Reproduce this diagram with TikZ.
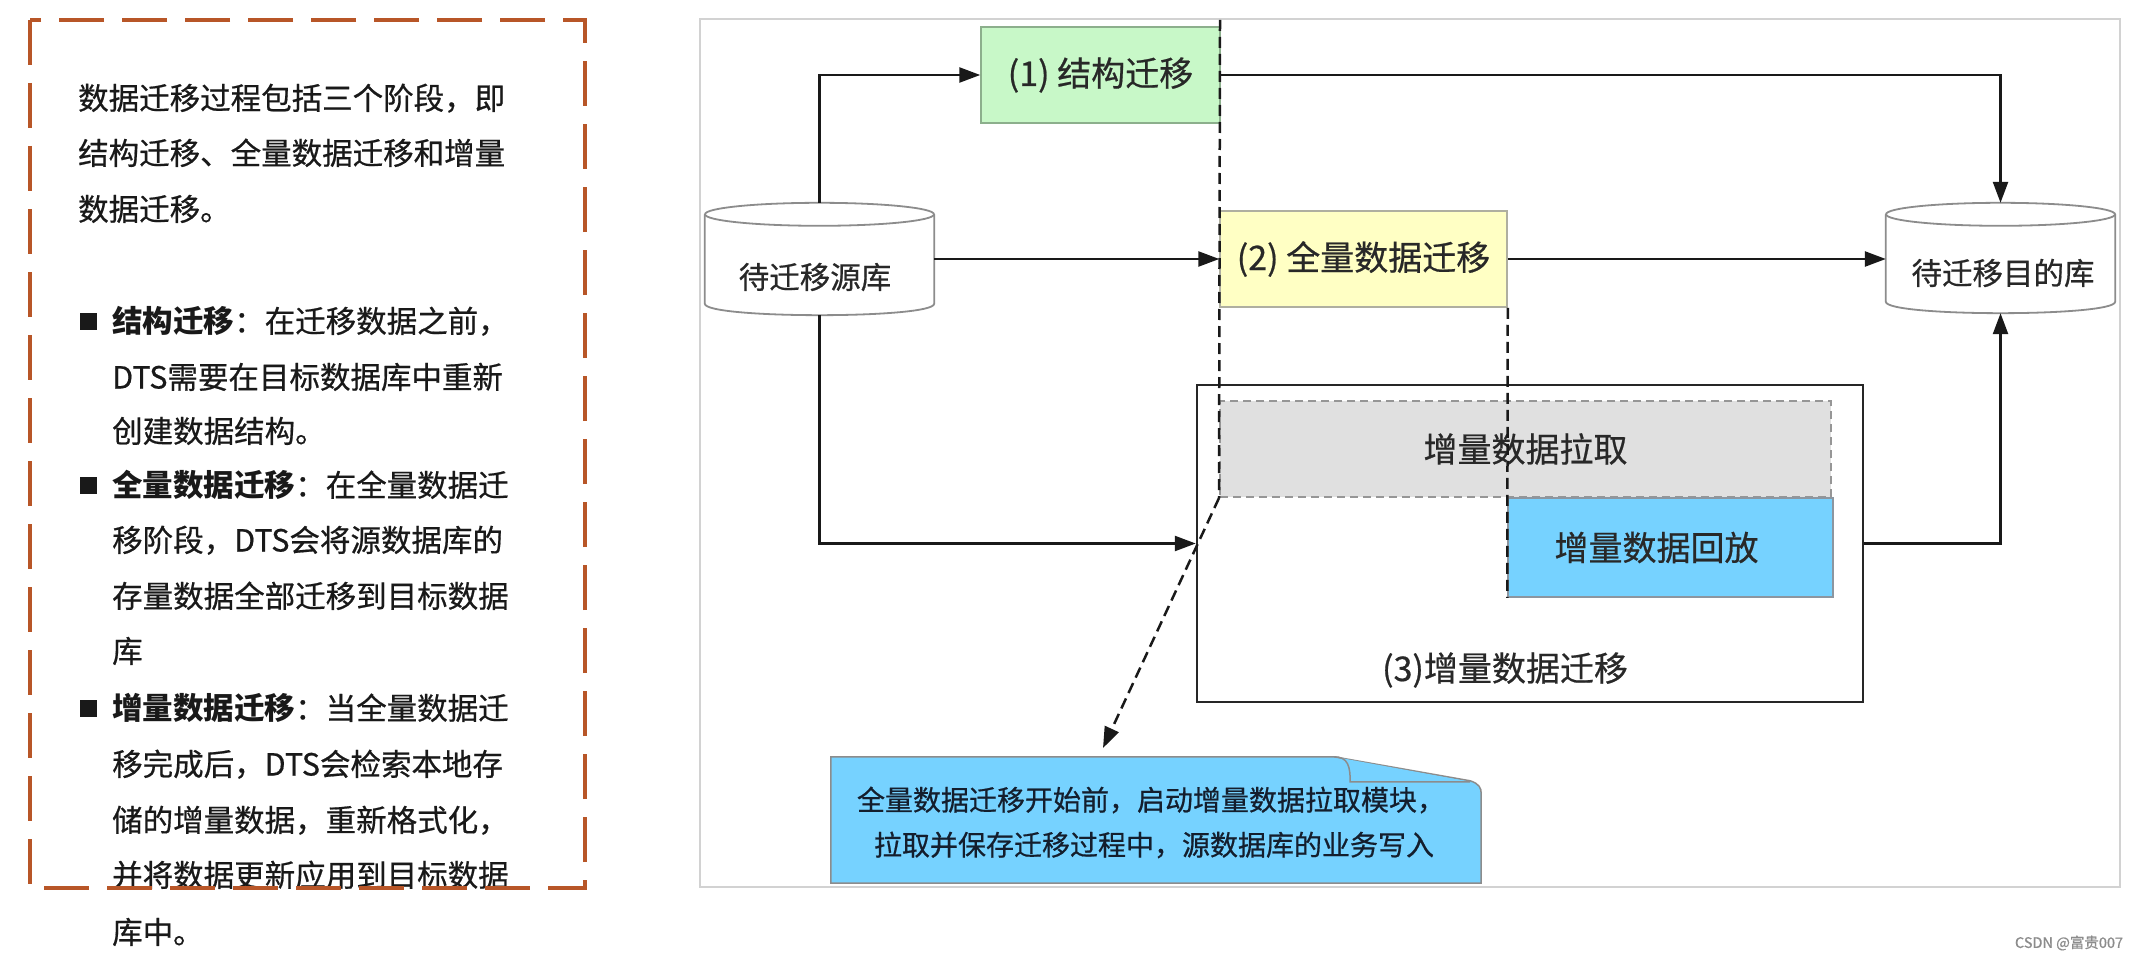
\documentclass[tikz,border=0pt]{standalone}
\usepackage{fontspec}
\setmainfont{Noto Sans CJK SC}[UprightFeatures={FakeBold=0.6}]
\usetikzlibrary{arrows.meta,calc}
\definecolor{brownd}{RGB}{184,86,40}
\definecolor{gfill}{RGB}{200,248,200}
\definecolor{gbord}{RGB}{140,175,140}
\definecolor{yfill}{RGB}{255,255,196}
\definecolor{ybord}{RGB}{175,175,160}
\definecolor{pfill}{RGB}{224,224,224}
\definecolor{pbord}{RGB}{150,150,150}
\definecolor{bfill}{RGB}{118,210,255}
\definecolor{bbord}{RGB}{140,150,160}
\definecolor{txt}{RGB}{25,25,25}
\definecolor{dtxt}{RGB}{40,40,40}
\definecolor{ntxt}{RGB}{20,30,45}
\definecolor{framec}{RGB}{210,210,210}
\newcommand\mycyl[1]{%
  \draw[cylst] ($(#1.north west)+(0,11.5)$) -- ($(#1.south west)+(0,-11.5)$)
    .. controls ($(#1.south west)+(0,3.8)$) and ($(#1.south east)+(0,3.8)$) .. ($(#1.south east)+(0,-11.5)$)
    -- ($(#1.north east)+(0,11.5)$);
  \draw[cylst] ($(#1.north)+(0,11.5)$) ellipse[x radius=114.5, y radius=11.5];
}
\begin{document}
\begin{tikzpicture}[x=1pt,y=-1pt,
  ltxt/.style={anchor=base west, inner sep=0pt, font=\fontsize{30.5}{36}\selectfont, text=txt},
  bsq/.style={fill=txt, inner sep=0pt, minimum size=17pt},
  lbl/.style={font=\fontsize{34}{40}\selectfont, text=dtxt, inner sep=0pt},
  clbl/.style={font=\fontsize{30.5}{36}\selectfont, text=dtxt, inner sep=0pt},
  nlbl/.style={font=\fontsize{28}{34}\selectfont, text=ntxt, inner sep=0pt},
  boxst/.style={line width=1.5pt, inner sep=0pt},
  cylst/.style={draw=black!45, line width=1.8pt},
  conn/.style={line width=2.5pt, draw=black!90, -{Triangle[length=21pt,width=15pt]}},
  dline/.style={line width=2.5pt, draw=black!90, dash pattern=on 11pt off 6pt},
]
\useasboundingbox (0,0) rectangle (2140,960);
\fill[white] (0,0) rectangle (2140,960);

% ---------- left panel ----------
\node[ltxt] (l1) at (78,109.5) {数据迁移过程包括三个阶段，即};
\node[ltxt] (l2) at (78,164.5) {结构迁移、全量数据迁移和增量};
\node[ltxt] (l3) at (78,220.5) {数据迁移。};
\node[bsq] (b1) at (88,321) {};
\node[ltxt] (l4) at (112,332.5) {\textbf{结构迁移}：在迁移数据之前，};
\node[ltxt] (l5) at (112,388.5) {DTS需要在目标数据库中重新};
\node[ltxt] (l6) at (112,442.5) {创建数据结构。};
\node[bsq] (b2) at (88,485) {};
\node[ltxt] (l7) at (112,496.5) {\textbf{全量数据迁移}：在全量数据迁};
\node[ltxt] (l8) at (112,551.5) {移阶段，DTS会将源数据库的};
\node[ltxt] (l9) at (112,607.5) {存量数据全部迁移到目标数据};
\node[ltxt] (l10) at (112,662.5) {库};
\node[bsq] (b3) at (88,708) {};
\node[ltxt] (l11) at (112,719.5) {\textbf{增量数据迁移}：当全量数据迁};
\node[ltxt] (l12) at (112,775.5) {移完成后，DTS会检索本地存};
\node[ltxt] (l13) at (112,831.5) {储的增量数据，重新格式化，};
\node[ltxt] (l14) at (112,886.5) {并将数据更新应用到目标数据};
\node[ltxt] (l15) at (112,943.5) {库中。};
\draw[brownd, line width=4pt, dash pattern=on 45pt off 18pt] (30,20) rectangle (585,888);

% ---------- right diagram ----------
\draw[framec, line width=1.5pt] (700,19) rectangle (2120,887);
\coordinate (dtop) at (1220,20);

\node[boxst, draw=black!85, line width=2.5pt, minimum width=666pt, minimum height=317pt] (s3) at (1530,543.5) {};
\node[boxst, draw=pbord, fill=pfill, dash pattern=on 8pt off 5pt, line width=2pt,
      minimum width=611pt, minimum height=96pt, lbl] (pull) at (1525.5,449) {增量数据拉取};
\node[boxst, draw=bbord, fill=bfill, minimum width=325pt, minimum height=99pt, lbl] (replay) at (1670.5,547.5) {\hspace*{-28pt}增量数据回放};
\node[lbl] (s3l) at (1505,670) {(3)增量数据迁移};

\node[boxst, draw=gbord, fill=gfill, minimum width=239pt, minimum height=96pt, lbl] (s1) at (1100.5,75) {(1) 结构迁移};
\node[boxst, draw=ybord, fill=yfill, minimum width=287pt, minimum height=96pt, lbl] (s2) at (1363.5,259) {(2) 全量数据迁移};

\node[inner sep=0pt, minimum width=229pt, minimum height=112pt] (src) at (819.5,259) {};
\node[inner sep=0pt, minimum width=229pt, minimum height=110pt] (tgt) at (2000.5,258) {};
\mycyl{src}
\mycyl{tgt}
\node[clbl] (srcl) at (815,277) {待迁移源库};
\node[clbl] (tgtl) at (2003,273) {待迁移目的库};

% note
\node[inner sep=0pt, minimum width=650pt, minimum height=126pt] (note) at (1156,820) {};
\draw[draw=black!45, fill=bfill, line width=1.5pt]
  (note.north west) -- ($(note.north east)+(-147,0)$) -- ($(note.north east)+(-11,24)$)
  .. controls ($(note.north east)+(-2,27)$) and ($(note.north east)+(0,31)$) .. ($(note.north east)+(0,37)$)
  -- (note.south east) -- (note.south west) -- cycle;
\draw[draw=black!45, fill=bfill, line width=1.5pt]
  ($(note.north east)+(-147,0)$) .. controls ($(note.north east)+(-133,0)$) and ($(note.north east)+(-131,10)$) .. ($(note.north east)+(-131,25)$)
  -- ($(note.north east)+(-11,25)$);
\node[nlbl] (n1) at (1151,800) {全量数据迁移开始前，启动增量数据拉取模块，};
\node[nlbl] (n2) at (1154,845) {拉取并保存迁移过程中，源数据库的业务写入};
\coordinate (tip) at (1103,748);

% connectors
\draw[conn] (src.north) |- (s1.west);
\draw[conn] (src.east) -- (s2.west);
\draw[conn] (src.south) |- (s3.west);
\draw[conn] (s1.east) -| (tgt.north);
\draw[conn] (s2.east) -- (tgt.west |- s2.east);
\draw[conn] (s3.east) -| (tgt.south);

% dashed phase lines
\draw[dline] (dtop) -- (pull.south west);
\draw[dline] (s2.south east) -- (replay.south west);
\draw[dline, -{Triangle[length=21pt,width=15pt]}] (pull.south west) -- (tip);

\node[font=\fontsize{14.5}{17}\selectfont, text=black!45, inner sep=0pt] (csdn) at (2069,943) {CSDN @富贵007};
\end{tikzpicture}
\end{document}
